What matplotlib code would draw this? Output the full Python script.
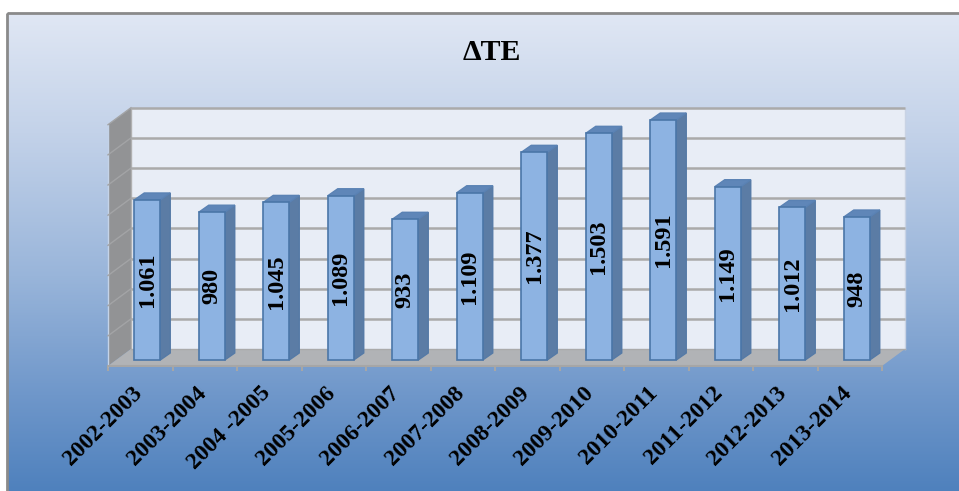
'''
Delta TE 3D style bar chart
'''

# Imports
import numpy as np
import matplotlib
matplotlib.use('Agg')
import matplotlib.pyplot as plt
from matplotlib.colors import LinearSegmentedColormap
from matplotlib.patches import Rectangle
from matplotlib.transforms import ScaledTranslation

# Main Vars
YEARS = ['2002-2003', '2003-2004', '2004 -2005', '2005-2006', '2006-2007', '2007-2008',
         '2008-2009', '2009-2010', '2010-2011', '2011-2012', '2012-2013', '2013-2014']
VALUES = [1061, 980, 1045, 1089, 933, 1109, 1377, 1503, 1591, 1149, 1012, 948]
LABELS = ['1.061', '980', '1.045', '1.089', '933', '1.109', '1.377', '1.503', '1.591', '1.149', '1.012', '948']
TITLE = 'ΔTE'
GRID_VALUES = [0, 200, 400, 600, 800, 1000, 1200, 1400, 1600]

W, H = 959, 491
# Front plane of the plot box, pixels
LEFT, RIGHT, FRONT_Y, TOP_Y = 108, 882, 366, 124.7
# Depth of the box and of the bars, pixels
DEPTH_X, DEPTH_Y = 23, 17
BAR_OFF_X, BAR_OFF_Y = 7, 6
BAR_W_PX, BAR_DX, BAR_DY = 26, 10, 7

plt.rcParams['font.family'] = ['Liberation Serif', 'DejaVu Serif']
plt.rcParams['font.weight'] = 'bold'

fig = plt.figure(figsize=(W / 100, H / 100), dpi=100, facecolor='white')

# Background gradient and frame
bg = fig.add_axes([0, 0, 1, 1], zorder=0)
bg.set_xlim(0, W)
bg.set_ylim(H, 0)
bg.axis('off')
cmap = LinearSegmentedColormap.from_list('bg', [(0, '#e0e7f4'), (0.25, '#c3d2e9'), (0.55, '#99b5da'),
                                                (0.8, '#6f97ca'), (1, '#4f81bd')])
grad = np.linspace(0, 1, 256).reshape(-1, 1)
bg.imshow(grad, cmap=cmap, extent=[7, W, H, 13], aspect='auto', zorder=1)
bg.add_patch(Rectangle((7, 13), W, H, fill=False, edgecolor='#8a8a8a', linewidth=2, zorder=2))
bg.set_xlim(0, W)
bg.set_ylim(H, 0)

# Plot axes sit on the front plane
ax = fig.add_axes([LEFT / W, (H - FRONT_Y) / H, (RIGHT - LEFT) / W, (FRONT_Y - TOP_Y) / H], zorder=1)
ax.patch.set_alpha(0)
ax.set_xlim(0, len(YEARS))
ax.set_ylim(0, GRID_VALUES[-1])
px_x = len(YEARS) / (RIGHT - LEFT)
px_y = GRID_VALUES[-1] / (FRONT_Y - TOP_Y)
dx, dy = DEPTH_X * px_x, DEPTH_Y * px_y
xmax, ymax = len(YEARS), GRID_VALUES[-1]

# Walls and floor
ax.fill([dx, xmax + dx, xmax + dx, dx], [dy, dy, ymax + dy, ymax + dy], color='#e8edf6', lw=0, clip_on=False, zorder=1)
ax.fill([0, dx, dx, 0], [0, dy, ymax + dy, ymax], color='#929395', lw=0, clip_on=False, zorder=1)
ax.fill([0, xmax, xmax + dx, dx], [0, 0, dy, dy], color='#b1b3b6', lw=0, clip_on=False, zorder=1)
ax.plot([0, 0], [0, ymax], color='#c4d3e8', lw=1, clip_on=False, zorder=2)
ax.plot([dx, dx], [dy, ymax + dy], color='#b0b0b0', lw=1, clip_on=False, zorder=2)
ax.plot([xmax + dx, xmax + dx], [dy, ymax + dy], color='#c9d3e4', lw=1, clip_on=False, zorder=2)

# Gridlines on the back and the side wall
for g in GRID_VALUES[1:]:
    ax.plot([dx, xmax + dx], [g + dy, g + dy], color='#aaaaaa', lw=1.8, clip_on=False, zorder=2, solid_capstyle='butt')
    ax.plot([0, dx], [g, g + dy], color='#a3a4a6', lw=1, clip_on=False, zorder=2)
ax.plot([dx, xmax + dx], [dy, dy], color='#aaaaaa', lw=1, clip_on=False, zorder=2)

# Bars
off_x, off_y = BAR_OFF_X * px_x, BAR_OFF_Y * px_y
w = BAR_W_PX * px_x
bdx, bdy = BAR_DX * px_x, BAR_DY * px_y
for i, v in enumerate(VALUES):
    cx = i + 0.5 + off_x
    x0, x1 = cx - w / 2, cx + w / 2
    top = v + off_y
    ax.fill([x1, x1 + bdx, x1 + bdx, x1], [off_y, off_y + bdy, top + bdy, top],
            facecolor='#5b7ca5', edgecolor='#557aa6', lw=1, clip_on=False, zorder=3 + i)
    ax.fill([x0, x1, x1 + bdx, x0 + bdx], [top, top, top + bdy, top + bdy],
            facecolor='#5f86b8', edgecolor='#5a82b4', lw=1, clip_on=False, zorder=3 + i)
    ax.bar(cx, v, width=w, bottom=off_y, facecolor='#8db3e2', edgecolor='#4a76a8', lw=1.2,
           clip_on=False, zorder=3 + i)
    ax.text(cx, off_y + v / 2, LABELS[i], rotation=90, ha='center', va='center', rotation_mode='anchor',
            fontsize=17.5, fontweight='bold', color='black', zorder=20)

# Axis
for s in ['top', 'left', 'right']:
    ax.spines[s].set_visible(False)
ax.spines['bottom'].set_color('#a6a6a6')
ax.spines['bottom'].set_linewidth(1.5)
ax.set_yticks([])
ax.set_xticks(np.arange(len(YEARS) + 1))
ax.set_xticklabels([])
ax.tick_params(axis='x', which='major', length=3.5, width=1.5, color='#a6a6a6')
ax.set_xticks(np.arange(len(YEARS)) + 0.5, minor=True)
ax.set_xticklabels(YEARS, minor=True, rotation=45, ha='right', va='top', rotation_mode='anchor',
                   fontsize=17, fontweight='bold', color='black')
ax.tick_params(axis='x', which='minor', length=0, pad=12)
# Labels end a little left of their category centre
shift = ScaledTranslation(-9 / 100, 0, fig.dpi_scale_trans)
for lab in ax.get_xticklabels(minor=True):
    lab.set_transform(lab.get_transform() + shift)

# Title
bg.text(492, 52, TITLE, ha='center', va='center', fontsize=21.5, fontweight='bold', color='black', zorder=5)

fig.savefig('out.png', dpi=100, facecolor='white')
